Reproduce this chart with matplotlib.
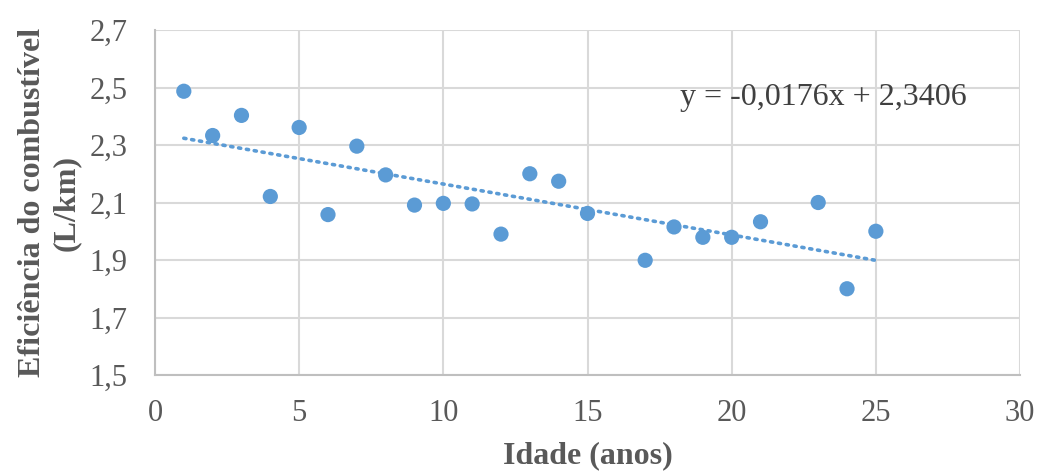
import matplotlib.pyplot as plt
from matplotlib.ticker import FuncFormatter
import numpy as np

# idade dos veículos (anos) e eficiência do combustível (L/km)
idade = [1, 2, 3, 4, 5, 6, 7, 8, 9, 10, 11, 12, 13, 14, 15,
         17, 18, 19, 20, 21, 23, 24, 25]
eficiencia = [2.487, 2.333, 2.403, 2.121, 2.361, 2.058, 2.296, 2.196,
              2.091, 2.097, 2.095, 1.990, 2.200, 2.174, 2.062,
              1.899, 2.015, 1.979, 1.979, 2.033, 2.100, 1.800, 2.000]
equacao = "y = -0,0176x + 2,3406"

azul = "#5B9BD5"
cinza_txt = "#595959"
cinza_grade = "#d9d9d9"

plt.rcParams['font.family'] = ['Liberation Serif', 'DejaVu Serif']

fig = plt.figure(figsize=(10.38, 4.71), dpi=100)
ax = fig.add_axes([0.1493, 0.2038, 0.8334, 0.7325])

x = np.array(idade)
y = np.array(eficiencia)

# linha de tendência linear
a, b = np.polyfit(x, y, 1)
xt = np.array([x.min(), x.max()])
ax.plot(xt, a * xt + b, linestyle=(0, (0.6, 1.6)), color=azul,
        linewidth=2.6, dash_capstyle='round', zorder=2)

ax.scatter(x, y, s=120, color=azul, edgecolors='none', zorder=3)

ax.text(18.2, 2.466, equacao, fontsize=23, color='#404040',
        va='center', ha='left')

ax.set_xlim(0, 30)
ax.set_ylim(1.5, 2.7)
ax.set_xticks(np.arange(0, 31, 5))
ax.set_yticks(np.arange(1.5, 2.71, 0.2))
ax.yaxis.set_major_formatter(FuncFormatter(lambda v, p: f"{v:.1f}".replace('.', ',')))

ax.grid(True, color=cinza_grade, linewidth=1.5)
ax.set_axisbelow(True)
for s in ['top', 'right']:
    ax.spines[s].set_visible(False)
for s in ['left', 'bottom']:
    ax.spines[s].set_color('#bfbfbf')
    ax.spines[s].set_linewidth(1.5)

ax.tick_params(length=0, labelsize=22, labelcolor=cinza_txt)
ax.tick_params(axis='x', pad=17)
ax.tick_params(axis='y', pad=20)

ax.set_xlabel("Idade (anos)", fontsize=23, fontweight='bold', color=cinza_txt, labelpad=10)
ax.set_ylabel("Eficiência do combustível\n(L/km)", fontsize=23, fontweight='bold',
              color=cinza_txt, labelpad=6, linespacing=1.2)

fig.savefig("out.png", dpi=100)
